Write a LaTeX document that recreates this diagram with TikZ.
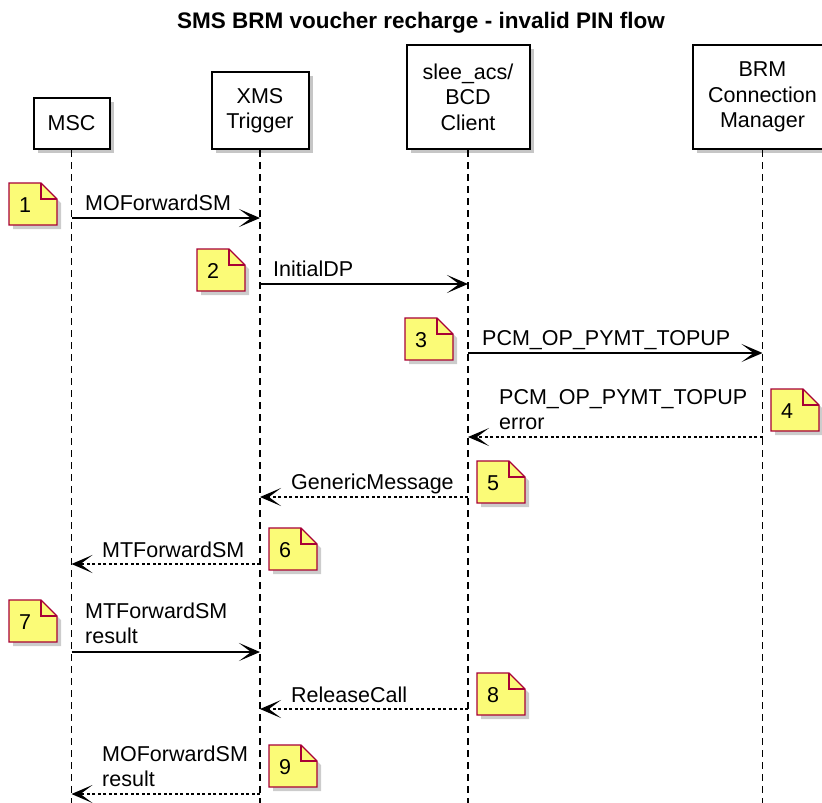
\documentclass[tikz,border=0pt]{standalone}
\usepackage{fontspec}
\setmainfont{Liberation Sans}
\usetikzlibrary{arrows.meta,shadows,calc}
\definecolor{notefill}{HTML}{FBFB77}
\definecolor{noteborder}{HTML}{A80036}
\tikzset{
  part/.style={draw=black, line width=2pt, fill=white, align=center, inner sep=0pt,
    font=\fontsize{21.5}{25.5}\selectfont,
    drop shadow={shadow xshift=4pt, shadow yshift=-4pt, fill=gray, opacity=0.45}},
  lifeline/.style={line width=1.3pt, dash pattern=on 7pt off 5pt},
  msg/.style={line width=1.5pt, -{Stealth[length=21pt,width=18pt,inset=12pt]}},
  reply/.style={msg, dash pattern=on 3pt off 2.5pt},
  lbl/.style={inner sep=0pt, font=\fontsize{21.5}{25.5}\selectfont, align=left},
  notetext/.style={inner sep=0pt, font=\fontsize{21.5}{25.5}\selectfont, anchor=west},
  notebody/.style={fill=notefill, draw=noteborder, line width=1.3pt, line join=miter},
  notefold/.style={draw=noteborder, line width=1.3pt},
  noteshadow/.style={fill=gray, opacity=0.4},
}
\newcommand\pumlnote[4]{%
  \fill[noteshadow] ({#2+4},{#3+4}) -- ++(32,0) -- ++(16,16) -- ++(0,26) -- ++(-48,0) -- cycle;
  \filldraw[notebody] (#2,#3) -- ++(32,0) -- ++(16,16) -- ++(0,26) -- ++(-48,0) -- cycle;
  \draw[notefold] ({#2+32},#3) -- ++(0,16) -- ++(16,0);
  \node[notetext] (#1) at ({#2+10},{#3+22}) {#4};
}
\begin{document}
\begin{tikzpicture}[x=1pt,y=-1pt]
\useasboundingbox (0,0) rectangle (822,803);
\node[font=\bfseries\fontsize{22.5}{26}\selectfont, anchor=base, inner sep=0pt] (title) at (421,28) {SMS BRM voucher recharge - invalid PIN flow};

\node[part, minimum width=76pt, minimum height=51pt] (msc) at (71.5,123.5) {MSC};
\node[part, minimum width=97pt, minimum height=77pt] (xms) at (260,110.5) {XMS\\Trigger};
\node[part, minimum width=123pt, minimum height=104pt] (slee) at (468,97) {slee\_acs/\\BCD\\Client};
\node[part, minimum width=139pt, minimum height=104pt] (brm) at (762.5,97) {BRM\\Connection\\Manager};

\draw[lifeline] (msc.south) -- (msc.south |- 0,803);
\draw[lifeline] (xms.south) -- (xms.south |- 0,803);
\draw[lifeline] (slee.south) -- (slee.south |- 0,803);
\draw[lifeline] (brm.south) -- (brm.south |- 0,803);

% 1
\draw[msg] (msc |- 0,218) -- (xms |- 0,218);
\node[lbl, anchor=base west] (l1) at (85,210) {MOForwardSM};
\pumlnote{n1}{9}{183}{1}
% 2
\draw[msg] (xms |- 0,284) -- (slee |- 0,284);
\node[lbl, anchor=base west] (l2) at (273,276) {InitialDP};
\pumlnote{n2}{197}{249}{2}
% 3
\draw[msg] (slee |- 0,353) -- (brm |- 0,353);
\node[lbl, anchor=base west] (l3) at (482,345) {PCM\_OP\_PYMT\_TOPUP};
\pumlnote{n3}{405}{318}{3}
% 4
\draw[reply] (brm |- 0,437) -- (slee |- 0,437);
\node[lbl, anchor=south west] (l4) at (499,430) {PCM\_OP\_PYMT\_TOPUP\\error};
\pumlnote{n4}{771}{389}{4}
% 5
\draw[reply] (slee |- 0,497) -- (xms |- 0,497);
\node[lbl, anchor=base west] (l5) at (291,489) {GenericMessage};
\pumlnote{n5}{477}{461}{5}
% 6
\draw[reply] (xms |- 0,564) -- (msc |- 0,564);
\node[lbl, anchor=base west] (l6) at (102,557) {MTForwardSM};
\pumlnote{n6}{269}{528}{6}
% 7
\draw[msg] (msc |- 0,652) -- (xms |- 0,652);
\node[lbl, anchor=south west] (l7) at (85,644) {MTForwardSM\\result};
\pumlnote{n7}{9}{600}{7}
% 8
\draw[reply] (slee |- 0,709) -- (xms |- 0,709);
\node[lbl, anchor=base west] (l8) at (291,702) {ReleaseCall};
\pumlnote{n8}{477}{673}{8}
% 9
\draw[reply] (xms |- 0,794) -- (msc |- 0,794);
\node[lbl, anchor=south west] (l9) at (102,787) {MOForwardSM\\result};
\pumlnote{n9}{269}{745}{9}
\end{tikzpicture}
\end{document}
